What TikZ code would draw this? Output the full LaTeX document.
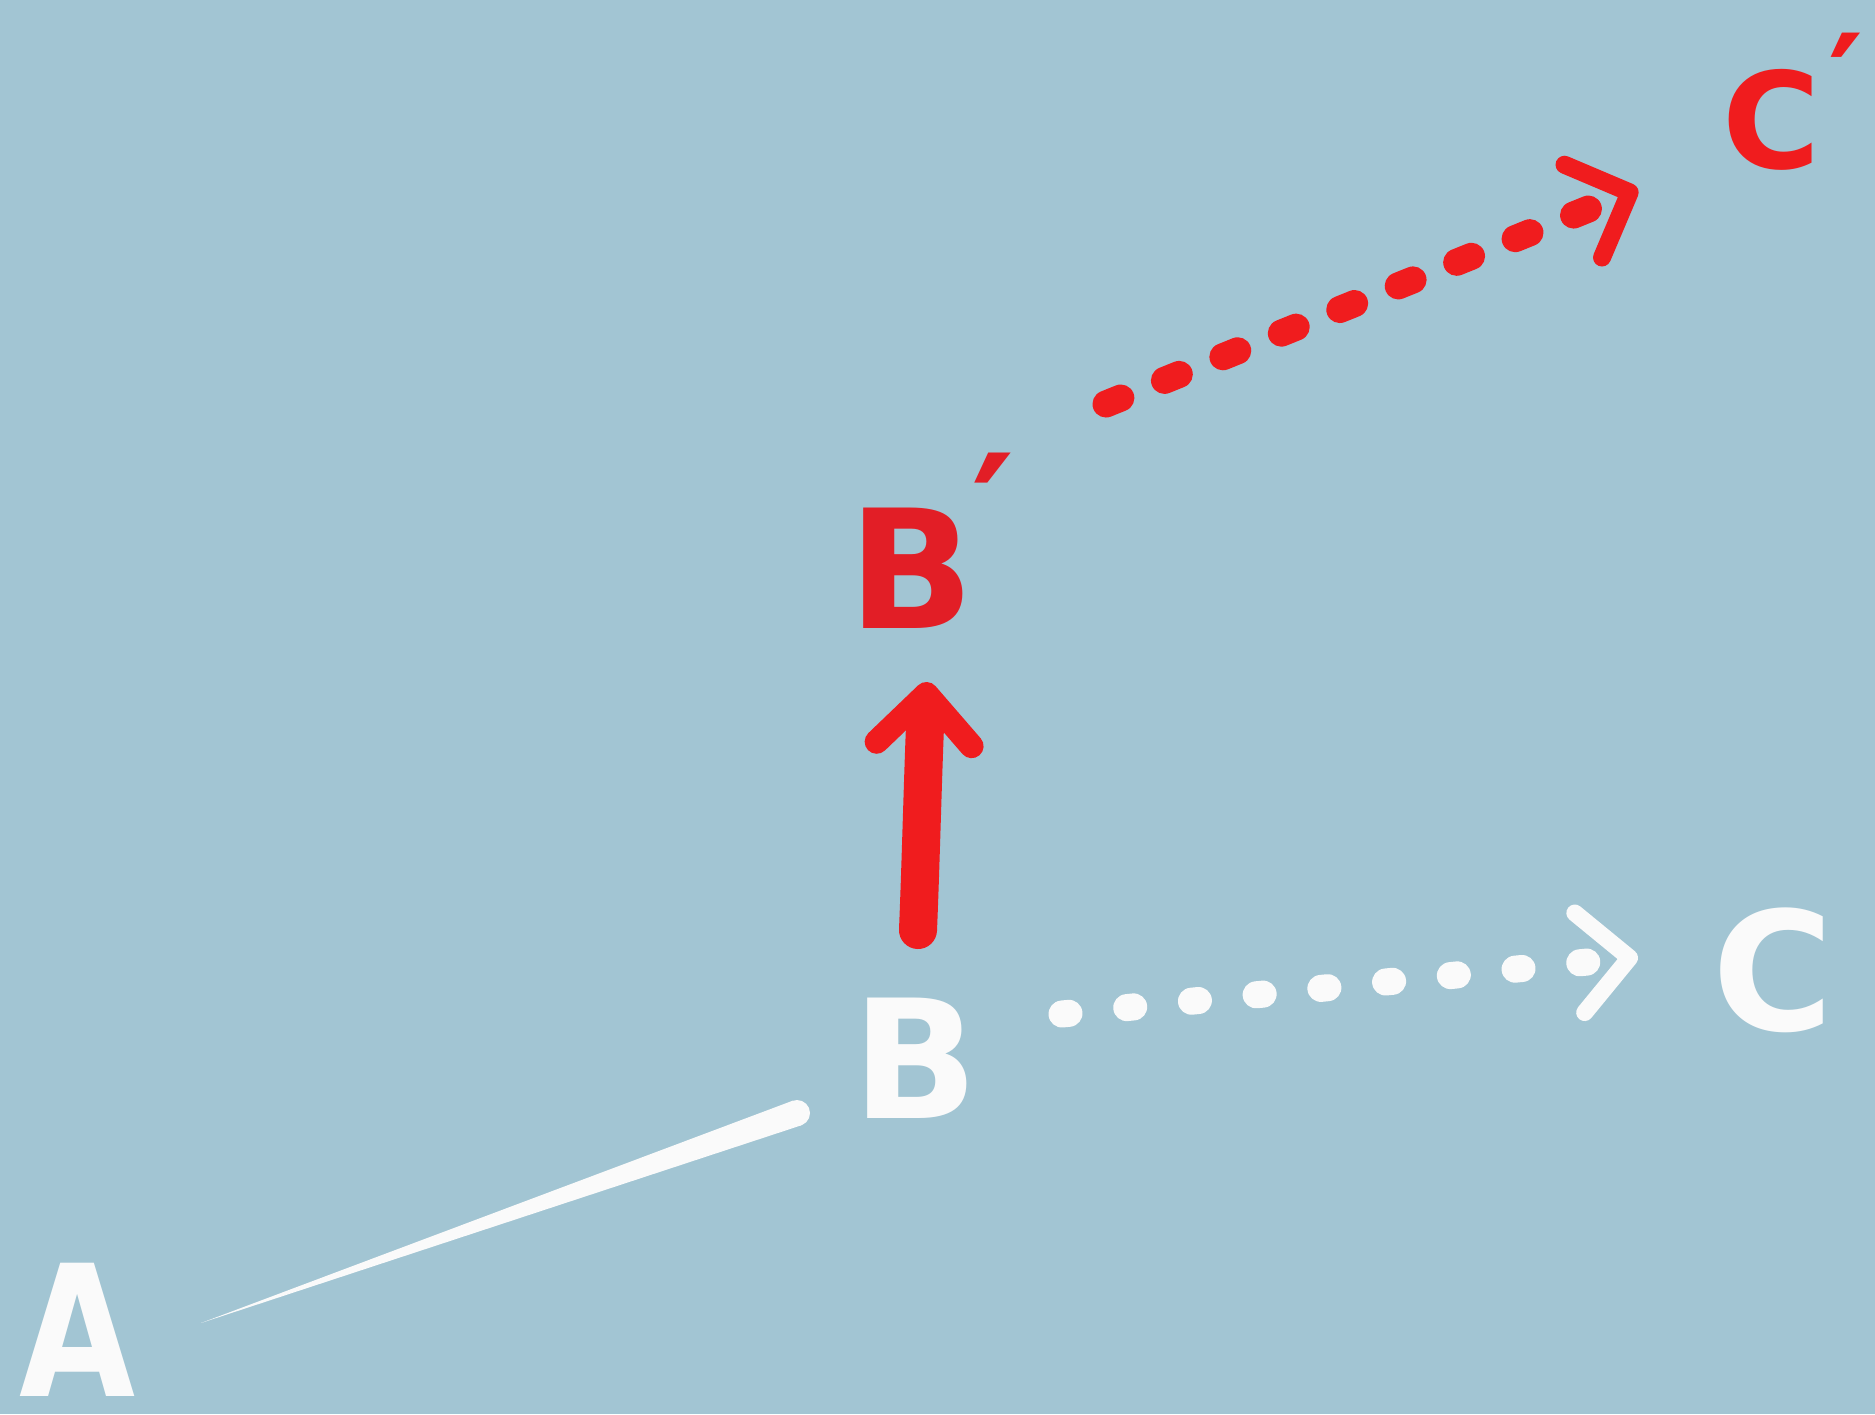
\documentclass[tikz,border=0pt]{standalone}
\usepackage{fontspec}
\setmainfont{DejaVu Sans}
\usetikzlibrary{arrows.meta,calc}
\definecolor{bg}{RGB}{162,197,211}
\definecolor{chalk}{RGB}{250,250,250}
\definecolor{mred}{RGB}{240,28,30}
\definecolor{dred}{RGB}{226,30,38}
\tikzset{
  lbl/.style={font=\fontsize{47}{50}\selectfont\bfseries, inner sep=0pt},
  wdot/.style={draw=chalk, line width=0.27cm, line cap=round, dash pattern=on 0.07cm off 0.58cm,
    -{Straight Barb[length=0.5cm, width=1.0cm, line width=0.17cm, round]}},
  rdot/.style={draw=mred, line width=0.27cm, line cap=round, dash pattern=on 0.16cm off 0.47cm,
    -{Straight Barb[length=0.5cm, width=1.0cm, line width=0.18cm, round]}},
  rbig/.style={draw=mred, line width=0.38cm, line cap=round,
    -{Straight Barb[length=0.5cm, width=0.95cm, line width=0.24cm, round]}}
}
\newcommand{\prm}[2]{\kern#1\raisebox{#2}{′}}
\begin{document}
\begin{tikzpicture}[x=0.01cm, y=-0.01cm]
\fill[bg] (0,0) rectangle (1875,1414);
\useasboundingbox (0,0) rectangle (1875,1414);

\node[lbl, text=chalk, font=\fontsize{52}{56}\selectfont\bfseries, xscale=0.82] (A) at (78,1330) {A};
\node[lbl, text=chalk] (B) at (915,1058) {B};
\node[lbl, text=chalk] (C) at (1773,970) {C};
\node[lbl, text=dred, anchor=base west] (Bp) at (848,628) {B\prm{-0.02em}{0.33em}};
\node[lbl, text=mred, anchor=base west, font=\fontsize{38}{42}\selectfont\bfseries] (Cp) at (1722,168) {C\prm{0.06em}{0.28em}};

% tapered line from A to B
\coordinate (a1) at ($(A)+(123,-7)$);
\coordinate (a2) at ($(B)+(-118,55)$);
\fill[chalk] (a1) -- ($(a2)+(4.3,12.3)$) -- ($(a2)+(-4.3,-12.3)$) -- cycle;
\fill[chalk] (a2) circle[radius=13];

% white dotted arrow B -> C
\draw[wdot] ($(B)+(147,-44)$) -- ($(C)+(-135,-13)$);

% red arrow B -> B'
\draw[rbig] ($(B)+(3,-128)$) .. controls ($(B)+(6,-200)$) and ($(Bp.base west)+(75,140)$) .. ($(Bp.base west)+(79,54)$);

% red dotted arrow B' -> C'
\draw[rdot] ($(Bp.base west)+(258,-224)$) -- ($(Cp.base west)+(-84,21)$);
\end{tikzpicture}
\end{document}
